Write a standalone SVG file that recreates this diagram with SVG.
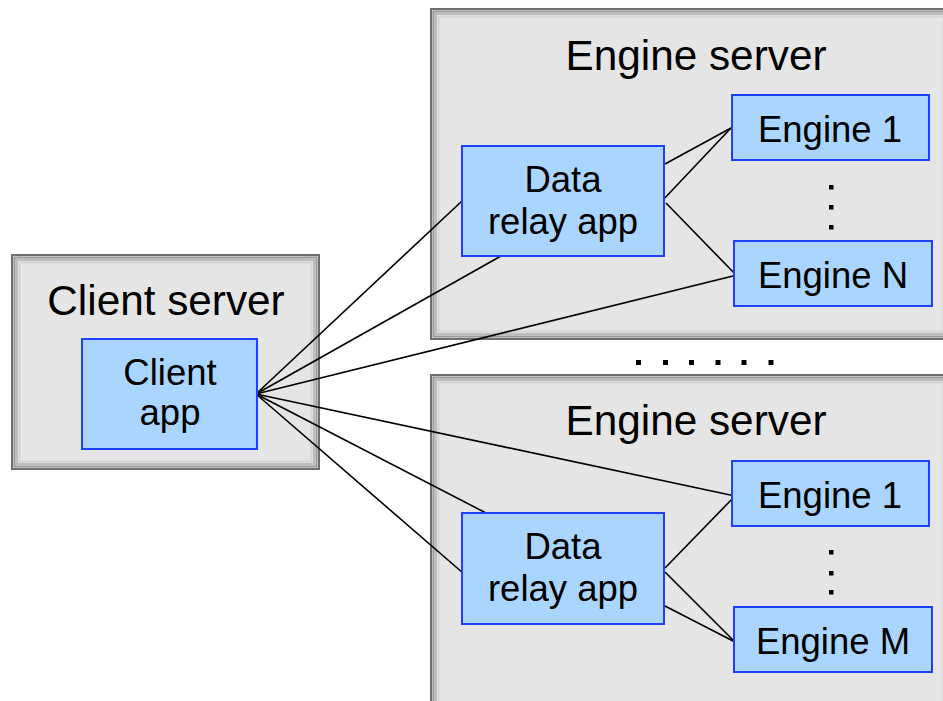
<svg xmlns="http://www.w3.org/2000/svg" width="943" height="701" viewBox="0 0 943 701">
<defs>
<style>
.srv{fill:#e5e5e5;stroke:#6e6e6e;stroke-width:2}
.b1{fill:none;stroke:#9a9a9a;stroke-width:2}
.b2{fill:none;stroke:#bdbdbd;stroke-width:2}
.b3{fill:none;stroke:#d6d6d6;stroke-width:2}
.app{fill:#a9d5ff;stroke:#1f40ff;stroke-width:2}
.t{font-family:"Liberation Sans",Arial,sans-serif;fill:#000;text-anchor:middle}
.big{font-size:42.3px}
.mid{font-size:36.5px}
.ln{stroke:#000;stroke-width:1.6;fill:none}
.dot{fill:#000}
</style>
</defs>
<rect width="943" height="701" fill="#fff"/>
<g id="client-server">
<rect class="srv" x="12" y="255" width="307" height="214"/>
<rect class="b1" x="14.5" y="257.5" width="302" height="209"/>
<rect class="b2" x="17" y="260" width="297" height="204"/>
<rect class="b3" x="19.5" y="262.5" width="292" height="199"/>
<text class="t big" x="166" y="315">Client server</text>
</g>
<g id="engine-server-1">
<rect class="srv" x="431" y="9" width="520" height="330"/>
<rect class="b1" x="433.5" y="11.5" width="515" height="325"/>
<rect class="b2" x="436" y="14" width="510" height="320"/>
<rect class="b3" x="438.5" y="16.5" width="505" height="315"/>
<text class="t big" x="696" y="70">Engine server</text>
</g>
<g id="engine-server-2">
<rect class="srv" x="431" y="375" width="520" height="340"/>
<rect class="b1" x="433.5" y="377.5" width="515" height="335"/>
<rect class="b2" x="436" y="380" width="510" height="330"/>
<rect class="b3" x="438.5" y="382.5" width="505" height="325"/>
<text class="t big" x="696" y="435">Engine server</text>
</g>
<g id="connectors">
<line class="ln" x1="256" y1="394" x2="462" y2="201"/>
<line class="ln" x1="256" y1="394" x2="501" y2="256"/>
<line class="ln" x1="256" y1="394" x2="737" y2="275"/>
<line class="ln" x1="256" y1="394" x2="735" y2="496"/>
<line class="ln" x1="256" y1="394" x2="486" y2="513"/>
<line class="ln" x1="256" y1="394" x2="463" y2="573"/>
<line class="ln" x1="665" y1="164" x2="731" y2="128"/>
<line class="ln" x1="662" y1="201" x2="731" y2="128"/>
<line class="ln" x1="666" y1="203" x2="737" y2="276"/>
<line class="ln" x1="665" y1="568" x2="735" y2="496"/>
<line class="ln" x1="665" y1="572" x2="735" y2="642"/>
<line class="ln" x1="665" y1="606" x2="735" y2="642"/>
</g>
<g id="client-app">
<rect class="app" x="82" y="339" width="175" height="110"/>
<text class="t mid" x="170" y="385">Client</text>
<text class="t mid" x="170" y="425">app</text>
</g>
<g id="relay-1">
<rect class="app" x="462" y="146" width="202" height="110"/>
<text class="t mid" x="563" y="192">Data</text>
<text class="t mid" x="563" y="234">relay app</text>
</g>
<g id="engine-1a">
<rect class="app" x="732" y="95" width="197" height="65"/>
<text class="t mid" x="830" y="142">Engine 1</text>
</g>
<g id="dots-1">
<rect class="dot" x="829" y="185" width="4.5" height="4.5"/>
<rect class="dot" x="829" y="205" width="4.5" height="4.5"/>
<rect class="dot" x="829" y="225" width="4.5" height="4.5"/>
</g>
<g id="engine-n">
<rect class="app" x="734" y="241" width="198" height="65"/>
<text class="t mid" x="833" y="288">Engine N</text>
</g>
<g id="hdots">
<rect class="dot" x="636" y="360" width="5" height="5"/>
<rect class="dot" x="663" y="360" width="5" height="5"/>
<rect class="dot" x="689" y="360" width="5" height="5"/>
<rect class="dot" x="715.5" y="360" width="5" height="5"/>
<rect class="dot" x="741.5" y="360" width="5" height="5"/>
<rect class="dot" x="768.5" y="360" width="5" height="5"/>
</g>
<g id="relay-2">
<rect class="app" x="462" y="513" width="202" height="111"/>
<text class="t mid" x="563" y="559">Data</text>
<text class="t mid" x="563" y="601">relay app</text>
</g>
<g id="engine-1b">
<rect class="app" x="732" y="461" width="197" height="65"/>
<text class="t mid" x="830" y="508">Engine 1</text>
</g>
<g id="dots-2">
<rect class="dot" x="829" y="550" width="4.5" height="4.5"/>
<rect class="dot" x="829" y="571" width="4.5" height="4.5"/>
<rect class="dot" x="829" y="590" width="4.5" height="4.5"/>
</g>
<g id="engine-m">
<rect class="app" x="734" y="607" width="198" height="65"/>
<text class="t mid" x="833" y="654">Engine M</text>
</g>
</svg>
